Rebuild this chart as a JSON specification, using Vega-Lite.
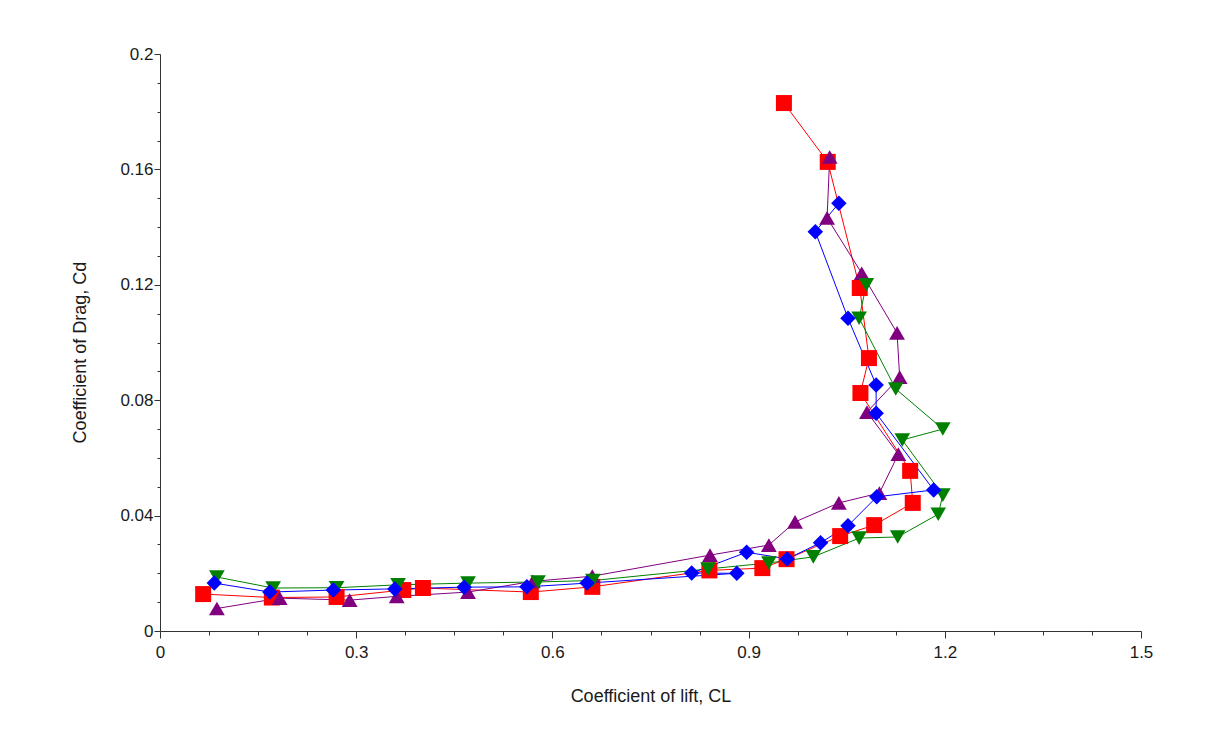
{
  "$schema": "https://vega.github.io/schema/vega-lite/v6.json",
  "autosize": {"type": "none"},
  "padding": {"left": 160, "top": 54, "right": 72, "bottom": 111},
  "width": 981,
  "height": 577,
  "background": "white",
  "config": {
    "view": {"stroke": null},
    "axis": {
      "labelFont": "Liberation Sans",
      "titleFont": "Liberation Sans",
      "labelFontSize": 17,
      "titleFontSize": 18,
      "titleFontWeight": "normal",
      "labelColor": "#1a1a1a",
      "titleColor": "#1a1a1a",
      "domainColor": "#333333",
      "tickColor": "#333333",
      "grid": false
    }
  },
  "data": {
    "values": [
      {"series": "A", "order": 1, "CL": 0.066, "Cd": 0.0128},
      {"series": "A", "order": 2, "CL": 0.171, "Cd": 0.0116},
      {"series": "A", "order": 3, "CL": 0.270, "Cd": 0.0118},
      {"series": "A", "order": 4, "CL": 0.372, "Cd": 0.0142},
      {"series": "A", "order": 5, "CL": 0.402, "Cd": 0.0149},
      {"series": "A", "order": 6, "CL": 0.567, "Cd": 0.0135},
      {"series": "A", "order": 7, "CL": 0.661, "Cd": 0.0153},
      {"series": "A", "order": 8, "CL": 0.840, "Cd": 0.0210},
      {"series": "A", "order": 9, "CL": 0.921, "Cd": 0.0218},
      {"series": "A", "order": 10, "CL": 0.958, "Cd": 0.0249},
      {"series": "A", "order": 11, "CL": 1.040, "Cd": 0.0329},
      {"series": "A", "order": 12, "CL": 1.092, "Cd": 0.0367},
      {"series": "A", "order": 13, "CL": 1.151, "Cd": 0.0444},
      {"series": "A", "order": 14, "CL": 1.147, "Cd": 0.0555},
      {"series": "A", "order": 15, "CL": 1.071, "Cd": 0.0825},
      {"series": "A", "order": 16, "CL": 1.084, "Cd": 0.0946},
      {"series": "A", "order": 17, "CL": 1.070, "Cd": 0.1189},
      {"series": "A", "order": 18, "CL": 1.021, "Cd": 0.1626},
      {"series": "A", "order": 19, "CL": 0.954, "Cd": 0.1830},

      {"series": "B", "order": 1, "CL": 0.087, "Cd": 0.0078},
      {"series": "B", "order": 2, "CL": 0.183, "Cd": 0.0114},
      {"series": "B", "order": 3, "CL": 0.290, "Cd": 0.0107},
      {"series": "B", "order": 4, "CL": 0.362, "Cd": 0.0120},
      {"series": "B", "order": 5, "CL": 0.471, "Cd": 0.0135},
      {"series": "B", "order": 6, "CL": 0.570, "Cd": 0.0172},
      {"series": "B", "order": 7, "CL": 0.661, "Cd": 0.0190},
      {"series": "B", "order": 8, "CL": 0.841, "Cd": 0.0263},
      {"series": "B", "order": 9, "CL": 0.931, "Cd": 0.0298},
      {"series": "B", "order": 10, "CL": 0.971, "Cd": 0.0378},
      {"series": "B", "order": 11, "CL": 1.038, "Cd": 0.0444},
      {"series": "B", "order": 12, "CL": 1.100, "Cd": 0.0478},
      {"series": "B", "order": 13, "CL": 1.129, "Cd": 0.0613},
      {"series": "B", "order": 14, "CL": 1.081, "Cd": 0.0759},
      {"series": "B", "order": 15, "CL": 1.131, "Cd": 0.0880},
      {"series": "B", "order": 16, "CL": 1.127, "Cd": 0.1033},
      {"series": "B", "order": 17, "CL": 1.073, "Cd": 0.1240},
      {"series": "B", "order": 18, "CL": 1.020, "Cd": 0.1432},
      {"series": "B", "order": 19, "CL": 1.024, "Cd": 0.1643},

      {"series": "C", "order": 1, "CL": 0.087, "Cd": 0.0187},
      {"series": "C", "order": 2, "CL": 0.173, "Cd": 0.0149},
      {"series": "C", "order": 3, "CL": 0.270, "Cd": 0.0150},
      {"series": "C", "order": 4, "CL": 0.364, "Cd": 0.0160},
      {"series": "C", "order": 5, "CL": 0.471, "Cd": 0.0166},
      {"series": "C", "order": 6, "CL": 0.578, "Cd": 0.0170},
      {"series": "C", "order": 7, "CL": 0.662, "Cd": 0.0175},
      {"series": "C", "order": 8, "CL": 0.838, "Cd": 0.0215},
      {"series": "C", "order": 9, "CL": 0.931, "Cd": 0.0236},
      {"series": "C", "order": 10, "CL": 0.999, "Cd": 0.0257},
      {"series": "C", "order": 11, "CL": 1.069, "Cd": 0.0322},
      {"series": "C", "order": 12, "CL": 1.128, "Cd": 0.0326},
      {"series": "C", "order": 13, "CL": 1.190, "Cd": 0.0405},
      {"series": "C", "order": 14, "CL": 1.197, "Cd": 0.0471},
      {"series": "C", "order": 15, "CL": 1.135, "Cd": 0.0662},
      {"series": "C", "order": 16, "CL": 1.197, "Cd": 0.0700},
      {"series": "C", "order": 17, "CL": 1.125, "Cd": 0.0839},
      {"series": "C", "order": 18, "CL": 1.069, "Cd": 0.1084},
      {"series": "C", "order": 19, "CL": 1.080, "Cd": 0.1200},

      {"series": "D", "order": 1, "CL": 0.083, "Cd": 0.0166},
      {"series": "D", "order": 2, "CL": 0.168, "Cd": 0.0135},
      {"series": "D", "order": 3, "CL": 0.265, "Cd": 0.0142},
      {"series": "D", "order": 4, "CL": 0.359, "Cd": 0.0146},
      {"series": "D", "order": 5, "CL": 0.465, "Cd": 0.0152},
      {"series": "D", "order": 6, "CL": 0.561, "Cd": 0.0153},
      {"series": "D", "order": 7, "CL": 0.653, "Cd": 0.0166},
      {"series": "D", "order": 8, "CL": 0.882, "Cd": 0.0200},
      {"series": "D", "order": 9, "CL": 0.813, "Cd": 0.0201},
      {"series": "D", "order": 10, "CL": 0.897, "Cd": 0.0273},
      {"series": "D", "order": 11, "CL": 0.959, "Cd": 0.0250},
      {"series": "D", "order": 12, "CL": 1.010, "Cd": 0.0306},
      {"series": "D", "order": 13, "CL": 1.052, "Cd": 0.0365},
      {"series": "D", "order": 14, "CL": 1.096, "Cd": 0.0465},
      {"series": "D", "order": 15, "CL": 1.183, "Cd": 0.0489},
      {"series": "D", "order": 16, "CL": 1.095, "Cd": 0.0755},
      {"series": "D", "order": 17, "CL": 1.095, "Cd": 0.0853},
      {"series": "D", "order": 18, "CL": 1.052, "Cd": 0.1084},
      {"series": "D", "order": 19, "CL": 1.002, "Cd": 0.1384},
      {"series": "D", "order": 20, "CL": 1.038, "Cd": 0.1483}
    ]
  },
  "resolve": {"axis": {"x": "independent", "y": "independent"}},
  "layer": [
    {
      "mark": {"type": "line", "strokeWidth": 1, "clip": false},
      "encoding": {
        "x": {
          "field": "CL", "type": "quantitative",
          "scale": {"domain": [0, 1.5], "nice": false, "zero": false},
          "axis": {
            "orient": "bottom",
            "title": "Coefficient of lift, CL",
            "values": [0, 0.3, 0.6, 0.9, 1.2, 1.5],
            "format": "~g",
            "tickSize": 7,
            "labelPadding": 6,
            "titlePadding": 27,
            "labelFlush": false
          }
        },
        "y": {
          "field": "Cd", "type": "quantitative",
          "scale": {"domain": [0, 0.2], "nice": false, "zero": false},
          "axis": {
            "orient": "left",
            "title": "Coefficient of Drag, Cd",
            "values": [0, 0.04, 0.08, 0.12, 0.16, 0.2],
            "format": "~g",
            "tickSize": 6,
            "labelPadding": 1,
            "titlePadding": 30,
            "titleY": 298,
            "labelFlush": false
          }
        },
        "color": {
          "field": "series", "type": "nominal",
          "scale": {"domain": ["A", "B", "C", "D"], "range": ["#ff0000", "#800080", "#008000", "#0000ff"]},
          "legend": null
        },
        "order": {"field": "order", "type": "quantitative"}
      }
    },
    {
      "mark": {"type": "point", "filled": true, "opacity": 1, "strokeWidth": 0},
      "encoding": {
        "x": {
          "field": "CL", "type": "quantitative",
          "axis": {
            "orient": "bottom",
            "title": null,
            "labels": false,
            "domain": false,
            "values": [0.075, 0.15, 0.225, 0.375, 0.45, 0.525, 0.675, 0.75, 0.825, 0.975, 1.05, 1.125, 1.275, 1.35, 1.425],
            "tickSize": 4
          }
        },
        "y": {
          "field": "Cd", "type": "quantitative",
          "axis": {
            "orient": "left",
            "title": null,
            "labels": false,
            "domain": false,
            "values": [0.01, 0.02, 0.03, 0.05, 0.06, 0.07, 0.09, 0.1, 0.11, 0.13, 0.14, 0.15, 0.17, 0.18, 0.19],
            "tickSize": 3
          }
        },
        "color": {
          "field": "series", "type": "nominal",
          "scale": {"domain": ["A", "B", "C", "D"], "range": ["#ff0000", "#800080", "#008000", "#0000ff"]},
          "legend": null
        },
        "shape": {
          "field": "series", "type": "nominal",
          "scale": {"domain": ["A", "B", "C", "D"], "range": ["square", "triangle-up", "triangle-down", "diamond"]},
          "legend": null
        },
        "size": {
          "field": "series", "type": "nominal",
          "scale": {"domain": ["A", "B", "C", "D"], "range": [256, 240, 240, 210]},
          "legend": null
        }
      }
    }
  ]
}
